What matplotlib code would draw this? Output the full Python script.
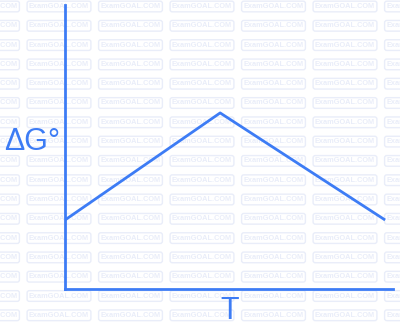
import matplotlib.pyplot as plt
import numpy as np

# temperature and free energy (arbitrary units)
T = [0.0, 4.73, 9.76]
dG = [2.43, 6.2, 2.43]

wm_text = "ExamGOAL.COM"
blue = '#3d7cf5'
wm_color = '#e9edf9'

W, H = 400, 327
fig = plt.figure(figsize=(W / 100, H / 100), dpi=100)
fig.patch.set_facecolor('white')

# watermark grid in the background
for row in range(18):
    yc = 6.5 + 19.3 * row
    for col in range(7):
        xc = -12.5 + 71.5 * col
        fig.text(xc / W, 1 - yc / H, wm_text, ha='center', va='center',
                 fontsize=5.3, fontweight='bold', color=wm_color,
                 family='Liberation Sans', zorder=-5,
                 bbox=dict(boxstyle='round,pad=0.25,rounding_size=0.3',
                           fc='none', ec=wm_color, lw=1.0))

ax = fig.add_axes([65 / W, (H - 289) / H, (393 - 65) / W, (289 - 5) / H])
ax.set_zorder(2)
ax.patch.set_alpha(0)
ax.plot(T, dG, color=blue, lw=2, solid_capstyle='butt')
ax.set_xlim(0, 10)
ax.set_ylim(0, 10)
for s in ['top', 'right']:
    ax.spines[s].set_visible(False)
for s in ['left', 'bottom']:
    ax.spines[s].set_color(blue)
    ax.spines[s].set_linewidth(2)
ax.set_xticks([])
ax.set_yticks([])

fig.text(4 / W, 1 - 142 / H, 'ΔG°', ha='left', va='center', fontsize=22,
         color=blue, family='Liberation Sans', zorder=3)
fig.text(230 / W, 1 - 311 / H, 'T', ha='center', va='center', fontsize=22,
         color=blue, family='Liberation Sans', zorder=3)

fig.savefig('out.png', dpi=100)
